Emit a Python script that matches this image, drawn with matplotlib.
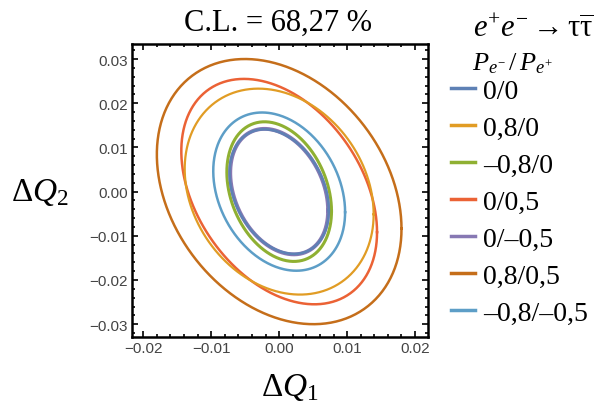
#Import libraries
import numpy as np
import matplotlib
matplotlib.use("Agg")
import matplotlib.pyplot as plt
from matplotlib.ticker import MultipleLocator

plt.rcParams['mathtext.fontset'] = 'custom'
plt.rcParams['mathtext.rm'] = 'Liberation Serif'
plt.rcParams['mathtext.it'] = 'Liberation Serif:italic'

#Polarisation settings (P_e- / P_e+) and colours
labels = ['0/0', '0,8/0', '\u20130,8/0', '0/0,5', '0/\u20130,5', '0,8/0,5', '\u20130,8/\u20130,5']
colors = ['#5E81B5', '#E19C24', '#8FB032', '#EB6235', '#8778B3', '#C56E1A', '#5D9EC7']
#68.27 % contour extents
half_q1 = [0.0073, 0.0139, 0.0077, 0.0144, 0.0072, 0.0180, 0.0097]
half_q2 = [0.0141, 0.0233, 0.0158, 0.0255, 0.0142, 0.0300, 0.0179]
rho = [-0.30, -0.22, -0.28, -0.36, -0.30, -0.28, -0.26]
widths = [1.8, 1.6, 2.2, 1.8, 2.8, 1.8, 1.8]
order = [5, 3, 1, 6, 2, 4, 0]

fig = plt.figure(figsize=(5.99, 4.06), dpi=100)
ax = fig.add_axes([131.7/599, 1-338/406, (428-131.7)/599, (338-45)/406])

t = np.linspace(0, 2*np.pi, 400)
handles = {}
for i in order:
    x = half_q1[i]*np.cos(t)
    y = half_q2[i]*(rho[i]*np.cos(t) + np.sqrt(1-rho[i]**2)*np.sin(t))
    h, = ax.plot(x, y, color=colors[i], lw=widths[i])
    handles[i] = h

ax.set_xlim(-0.0217, 0.0219)
ax.set_ylim(-0.0329, 0.0334)
ax.xaxis.set_major_locator(MultipleLocator(0.01))
ax.yaxis.set_major_locator(MultipleLocator(0.01))
ax.xaxis.set_minor_locator(MultipleLocator(0.002))
ax.yaxis.set_minor_locator(MultipleLocator(0.002))
ax.xaxis.set_major_formatter(lambda v, p: f'{v:.2f}'.replace('-', '\u2212'))
ax.yaxis.set_major_formatter(lambda v, p: f'{v:.2f}'.replace('-', '\u2212'))
ax.tick_params(which='both', direction='in', top=True, right=True, width=1.2,
               labelsize=11, labelcolor='#444444', pad=3)
ax.tick_params(which='major', length=4)
ax.tick_params(which='minor', length=2)
for lab in ax.get_xticklabels() + ax.get_yticklabels():
    lab.set_family('Liberation Sans')
for s in ax.spines.values():
    s.set_linewidth(1.8)

fig.text(278/599, 1-23/406, 'C.L. = 68,27 %', family='Liberation Serif', fontsize=22,
         ha='center', va='center')
fig.text(290/599, 1-387/406, r'$\Delta Q_1$', fontsize=24, ha='center', va='center')
fig.text(40/599, 1-191/406, r'$\Delta Q_2$', fontsize=24, ha='center', va='center')
fig.text(533/599, 1-28/406, r'$e^{+}e^{-}\rightarrow\mathrm{\tau}\overline{\mathrm{\tau}}$',
         fontsize=22, ha='center', va='center')
fig.text(512/599, 1-63/406, r'$P_{e^{-}}\,/\,P_{e^{+}}$', fontsize=19, ha='center', va='center')

fig.legend([handles[i] for i in range(len(labels))], labels, loc='upper left',
           bbox_to_anchor=(440/599, 1-68/406), frameon=False,
           prop={'family': 'Liberation Serif', 'size': 20},
           handlelength=0.85, handletextpad=0.3, labelspacing=0.42, borderaxespad=0)
for h in fig.legends[0].get_lines():
    h.set_linewidth(2.5)

fig.savefig('out.png', dpi=100)
